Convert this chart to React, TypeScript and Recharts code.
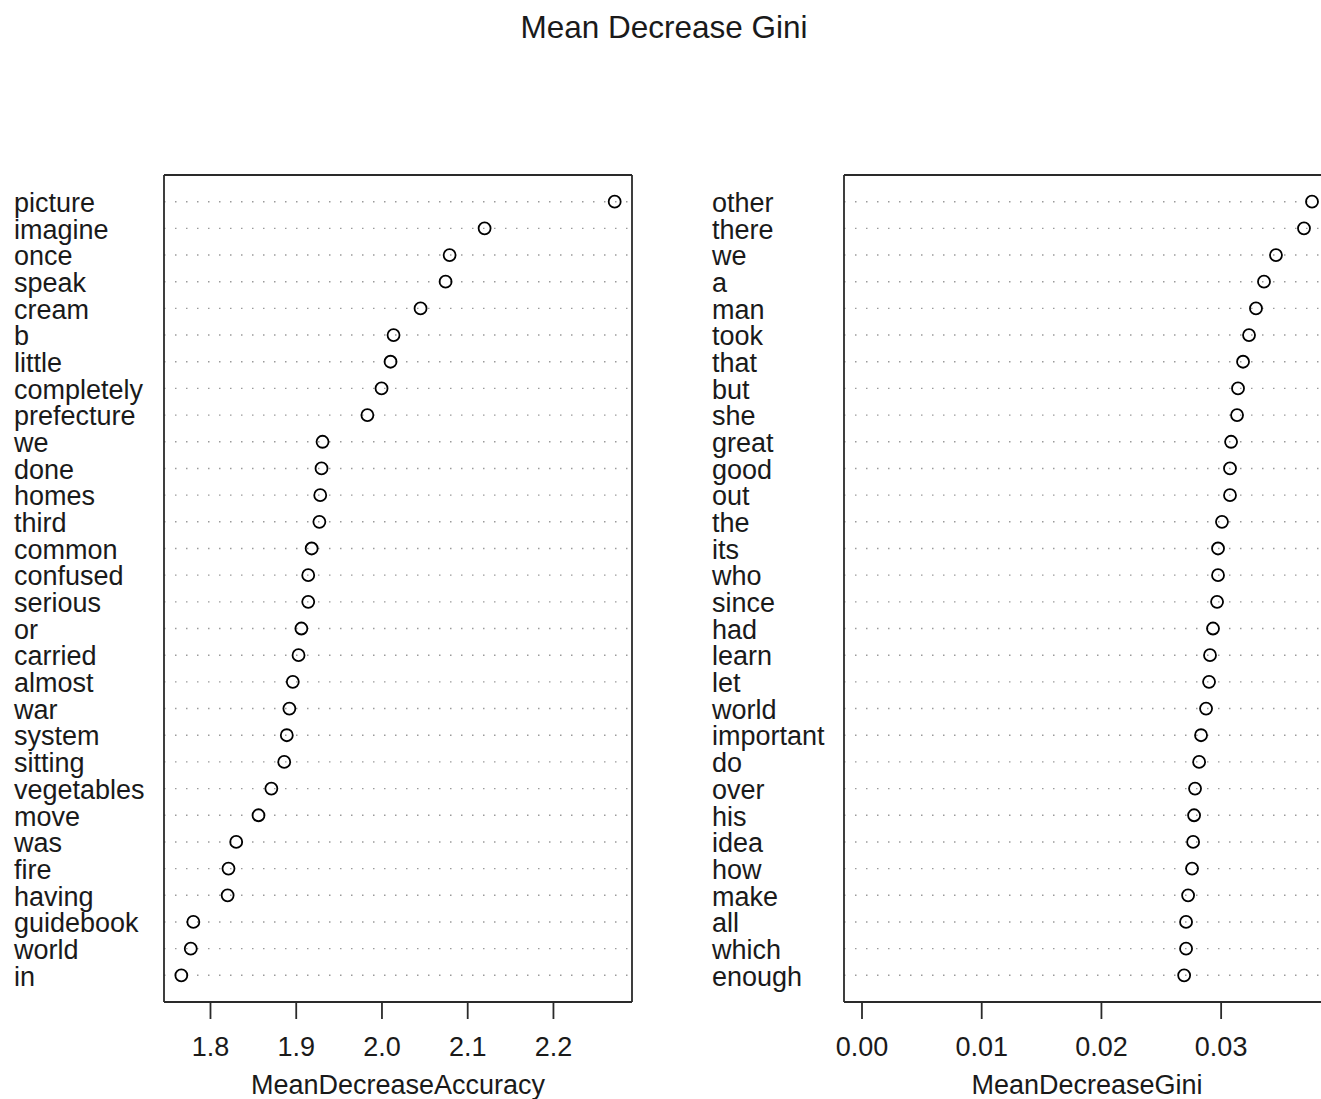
import React from "react";
import { ScatterChart, Scatter, XAxis, YAxis, CartesianGrid } from "recharts";

// MeanDecreaseAccuracy, top row first
const accuracyTerms = [
  "picture", "imagine", "once", "speak", "cream", "b", "little", "completely",
  "prefecture", "we", "done", "homes", "third", "common", "confused", "serious",
  "or", "carried", "almost", "war", "system", "sitting", "vegetables", "move",
  "was", "fire", "having", "guidebook", "world", "in",
];
const accuracyValues = [
  2.2714, 2.1197, 2.0789, 2.0742, 2.045, 2.0135, 2.01, 1.9995,
  1.983, 1.9307, 1.9295, 1.928, 1.927, 1.918, 1.914, 1.914,
  1.906, 1.9027, 1.896, 1.892, 1.889, 1.886, 1.871, 1.856,
  1.83, 1.821, 1.82, 1.78, 1.777, 1.766,
];
const accuracyTicks = [1.8, 1.9, 2.0, 2.1, 2.2];

// MeanDecreaseGini, top row first
const giniTerms = [
  "other", "there", "we", "a", "man", "took", "that", "but",
  "she", "great", "good", "out", "the", "its", "who", "since",
  "had", "learn", "let", "world", "important", "do", "over", "his",
  "idea", "how", "make", "all", "which", "enough",
];
const giniValues = [
  0.03759, 0.03692, 0.03458, 0.03358, 0.03291, 0.03233, 0.03183, 0.03141,
  0.03133, 0.03083, 0.03074, 0.03074, 0.03007, 0.02974, 0.02974, 0.02966,
  0.02932, 0.02907, 0.02899, 0.02874, 0.02832, 0.02816, 0.02782, 0.02774,
  0.02766, 0.02757, 0.02724, 0.02707, 0.02707, 0.02691,
];
const giniTicks = [0, 0.01, 0.02, 0.03];

const FONT = "'Liberation Sans', Arial, Helvetica, sans-serif";
const TEXT = "#1a1a1a";
const FRAME = "#2a2a2a";

type Row = { name: string; value: number; rank: number };

const toRows = (terms: string[], values: number[]): Row[] =>
  terms.map((name, i) => ({ name, value: values[i], rank: terms.length - i }));

// R dotchart style range: pad 4% each side
const padded = (lo: number, hi: number): [number, number] => {
  const d = (hi - lo) * 0.04;
  return [lo - d, hi + d];
};

const Dot = (props: any) => (
  <circle cx={props.cx} cy={props.cy} r={6} fill="none" stroke="#000" strokeWidth={1.8} />
);

interface PanelProps {
  rows: Row[];
  domain: [number, number];
  ticks: number[];
  digits: number;
  title: string;
  width: number;
  plotWidth: number;
  labelGap: number;
  left: number;
}

function DotPanel({ rows, domain, ticks, digits, title, width, plotWidth, labelGap, left }: PanelProps) {
  const n = rows.length;
  const ranks = rows.map((r) => r.rank);
  const nameOf = (rank: number) => rows.find((r) => r.rank === rank)?.name ?? "";

  const renderLabel = (p: any) => (
    <text
      x={p.x - labelGap}
      y={p.y}
      dy="0.38em"
      textAnchor="start"
      fontSize={27}
      fontFamily={FONT}
      fill={TEXT}
    >
      {nameOf(p.payload.value)}
    </text>
  );

  return (
    <div style={{ position: "absolute", left, top: 0 }}>
      <ScatterChart
        width={width}
        height={1099}
        margin={{ top: 174, left: 163, right: width - 164 - plotWidth - 1, bottom: 96 }}
        style={{ fontFamily: FONT }}
      >
        <CartesianGrid
          vertical={false}
          stroke="#9a9a9a"
          strokeWidth={1.4}
          strokeDasharray="1.5 9.5"
        />
        <XAxis
          type="number"
          dataKey="value"
          domain={domain}
          allowDataOverflow
          ticks={ticks}
          interval={0}
          height={1}
          tickSize={17}
          tickMargin={18}
          tickFormatter={(v: number) => v.toFixed(digits)}
          tick={{ fontSize: 27, fill: TEXT, fontFamily: FONT }}
          axisLine={{ stroke: FRAME, strokeWidth: 1.8 }}
          tickLine={{ stroke: FRAME, strokeWidth: 1.8 }}
          label={{ value: title, position: "bottom", offset: 72, fontSize: 27, fill: TEXT, fontFamily: FONT }}
        />
        <XAxis
          xAxisId="top"
          orientation="top"
          type="number"
          domain={domain}
          allowDataOverflow
          height={1}
          tick={false}
          tickLine={false}
          axisLine={{ stroke: FRAME, strokeWidth: 1.8 }}
        />
        <YAxis
          type="number"
          dataKey="rank"
          domain={[0, n + 1]}
          allowDataOverflow
          ticks={ranks}
          interval={0}
          width={1}
          tickSize={0}
          tickMargin={0}
          tickLine={false}
          tick={renderLabel}
          axisLine={{ stroke: FRAME, strokeWidth: 1.8 }}
        />
        <YAxis
          yAxisId="right"
          orientation="right"
          type="number"
          domain={[0, n + 1]}
          allowDataOverflow
          width={1}
          tick={false}
          tickLine={false}
          axisLine={{ stroke: FRAME, strokeWidth: 1.8 }}
        />
        <Scatter data={rows} shape={Dot} isAnimationActive={false} />
      </ScatterChart>
    </div>
  );
}

export default function App() {
  const accRows = toRows(accuracyTerms, accuracyValues);
  const giniRows = toRows(giniTerms, giniValues);
  const accDomain = padded(Math.min(...accuracyValues), Math.max(...accuracyValues));
  const giniDomain = padded(0, Math.max(...giniValues));

  return (
    <div
      style={{
        position: "absolute",
        left: 0,
        top: 0,
        width: 1321,
        height: 1099,
        overflow: "hidden",
        background: "#fff",
        fontFamily: FONT,
      }}
    >
      <div
        style={{
          position: "absolute",
          left: 0,
          top: 9,
          width: 1328,
          textAlign: "center",
          fontSize: 31.5,
          color: TEXT,
          lineHeight: "36px",
        }}
      >
        Mean Decrease Gini
      </div>
      <DotPanel
        rows={accRows}
        domain={accDomain}
        ticks={accuracyTicks}
        digits={1}
        title="MeanDecreaseAccuracy"
        width={660}
        plotWidth={468}
        labelGap={150}
        left={0}
      />
      <DotPanel
        rows={giniRows}
        domain={giniDomain}
        ticks={giniTicks}
        digits={2}
        title="MeanDecreaseGini"
        width={680}
        plotWidth={486}
        labelGap={132}
        left={680}
      />
    </div>
  );
}
